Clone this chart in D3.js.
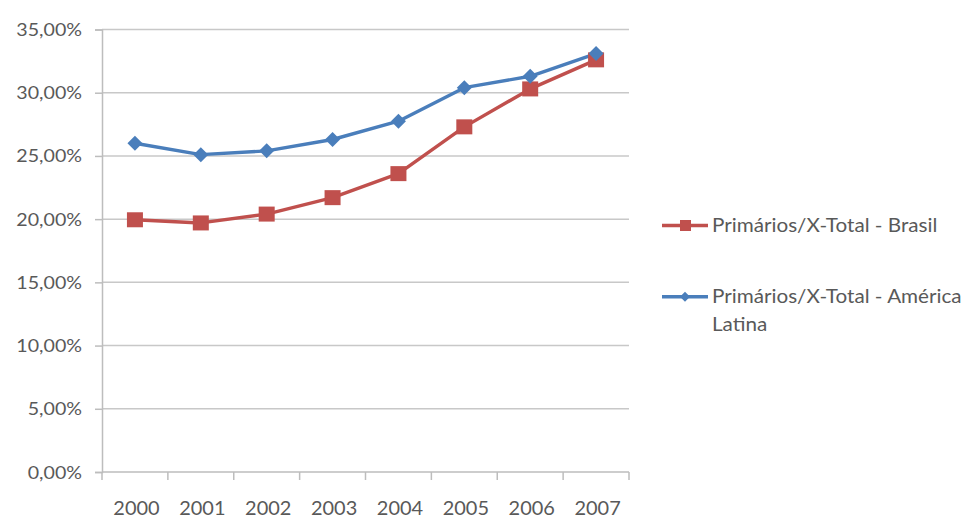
<!DOCTYPE html>
<html>
<head>
<meta charset="utf-8">
<script src="https://cdn.jsdelivr.net/npm/d3@7"></script>
<style>
  html, body { margin: 0; padding: 0; background: #fff; }
  svg { display: block; font-family: Lato, "Open Sans", sans-serif; }
</style>
</head>
<body>
<svg id="chart" width="967" height="519"></svg>
<script>
// Share of primary products in total exports, 2000–2007
const years = ["2000", "2001", "2002", "2003", "2004", "2005", "2006", "2007"];
const brasil = [0.1995, 0.197, 0.204, 0.217, 0.236, 0.273, 0.303, 0.326];
const americaLatina = [0.260, 0.251, 0.254, 0.263, 0.2775, 0.304, 0.313, 0.331];
const yTicks = [0, 0.05, 0.10, 0.15, 0.20, 0.25, 0.30, 0.35];
const seriesNames = ["Primários/X-Total - Brasil", "Primários/X-Total - América Latina"];

const svg = d3.select("#chart");
const plot = { left: 102, right: 629, top: 29.5, bottom: 472 };

const x = d3.scaleBand().domain(years).range([plot.left, plot.right]);
const y = d3.scaleLinear().domain([0, 0.35]).range([plot.bottom, plot.top]);

const fmt = v => d3.format(".2f")(v * 100).replace(".", ",") + "%";
const axisColor = "#bdbdbd", textColor = "#595959";

// horizontal gridlines
svg.append("g").selectAll("line").data(yTicks.filter(t => t > 0)).join("line")
  .attr("x1", plot.left).attr("x2", plot.right)
  .attr("y1", d => y(d)).attr("y2", d => y(d))
  .attr("stroke", "#c8c8c8").attr("stroke-width", 1.5);

// y axis
const yAxis = svg.append("g").attr("transform", `translate(${plot.left},0)`)
  .call(d3.axisLeft(y).tickValues(yTicks).tickFormat("").tickSize(7));
yAxis.select(".domain").attr("stroke", axisColor).attr("stroke-width", 1.5);
yAxis.selectAll(".tick line").attr("stroke", axisColor).attr("stroke-width", 1.5);
svg.append("g").selectAll("text").data(yTicks).join("text")
  .attr("transform", d => `translate(82,${y(d) + 6.5}) scale(1.09,1)`)
  .attr("text-anchor", "end").attr("fill", textColor).attr("font-size", 18)
  .text(fmt);

// x axis with boundary ticks between categories
const xAxisG = svg.append("g").attr("transform", `translate(0,${plot.bottom})`);
xAxisG.append("line").attr("x1", plot.left).attr("x2", plot.right)
  .attr("stroke", axisColor).attr("stroke-width", 1.5);
const bounds = years.map(d => x(d)).concat([plot.right]);
xAxisG.selectAll("line.b").data(bounds).join("line").attr("class", "b")
  .attr("x1", d => d).attr("x2", d => d).attr("y1", 0).attr("y2", 8)
  .attr("stroke", axisColor).attr("stroke-width", 1.5);
xAxisG.selectAll("text").data(years).join("text")
  .attr("transform", d => `translate(${x(d) + x.bandwidth() / 2 + 1.5},43) scale(1.05,1)`)
  .attr("text-anchor", "middle").attr("fill", textColor).attr("font-size", 19)
  .text(d => d);

const cx = d => x(d) + x.bandwidth() / 2;
const line = d3.line().x((v, i) => cx(years[i])).y(v => y(v));

const red = "#c0504d", blue = "#4a7ebb";

// América Latina series (diamonds)
svg.append("path").datum(americaLatina).attr("d", line)
  .attr("fill", "none").attr("stroke", blue).attr("stroke-width", 3.4).attr("stroke-linejoin", "round");
// Brasil series (squares)
svg.append("path").datum(brasil).attr("d", line)
  .attr("fill", "none").attr("stroke", red).attr("stroke-width", 3.4).attr("stroke-linejoin", "round");

const sqW = 16, sqH = 15, dmX = 7.5, dmY = 7.5;
svg.append("g").selectAll("rect").data(brasil).join("rect")
  .attr("x", (v, i) => cx(years[i]) - sqW / 2).attr("y", v => y(v) - sqH / 2)
  .attr("width", sqW).attr("height", sqH).attr("fill", red);
svg.append("g").selectAll("path").data(americaLatina).join("path")
  .attr("d", (v, i) => {
    const px = cx(years[i]), py = y(v);
    return `M${px},${py - dmY}L${px + dmX},${py}L${px},${py + dmY}L${px - dmX},${py}Z`;
  })
  .attr("fill", blue);

// legend
const lg = svg.append("g");
const lgItems = [
  { y: 225.5, color: red, marker: "sq", lines: [seriesNames[0]] },
  { y: 296.7, color: blue, marker: "dm", lines: ["Primários/X-Total - América", "Latina"] }
];
lgItems.forEach(it => {
  lg.append("line").attr("x1", 662).attr("x2", 708).attr("y1", it.y).attr("y2", it.y)
    .attr("stroke", it.color).attr("stroke-width", 3.4);
  if (it.marker === "sq") {
    lg.append("rect").attr("x", 685.5 - 5.5).attr("y", it.y - 5.5).attr("width", 11).attr("height", 11).attr("fill", it.color);
  } else {
    lg.append("path").attr("d", `M685,${it.y - 5}L690,${it.y}L685,${it.y + 5}L680,${it.y}Z`).attr("fill", it.color);
  }
  it.lines.forEach((t, k) => {
    lg.append("text").attr("transform", `translate(712,${it.y + 6.5 + k * 28}) scale(1.1,1)`)
      .attr("fill", textColor).attr("font-size", 18.8).text(t);
  });
});
</script>
</body>
</html>
